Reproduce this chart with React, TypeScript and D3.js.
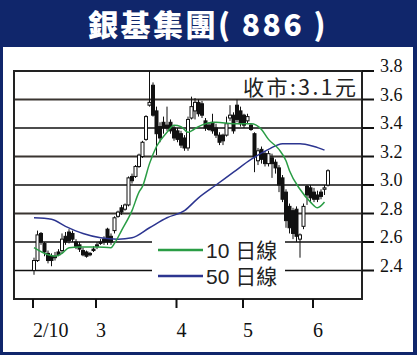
import * as d3 from "d3";

// daily candles, 2/10 .. early June
const opens = [2.40,2.47,2.66,2.59,2.52,2.50,2.50,2.53,2.54,2.64, 2.67,2.66,2.60,2.58,2.54,2.53,2.52,2.55,2.58,2.60, 2.62,2.69,2.64,2.68,2.78,2.84,2.83,2.86,3.06,3.06, 3.13,3.20,3.32,3.56,3.70,3.52,3.41,3.44,3.42,3.44, 3.40,3.38,3.36,3.33,3.26,3.47,3.52,3.58,3.57,3.45, 3.42,3.44,3.40,3.35,3.35,3.35,3.47,3.49,3.56,3.52, 3.49,3.45,3.42,3.36,3.17,3.25,3.22,3.15,3.19,3.16, 3.12,3.05,2.95,2.85,2.82,2.83,2.62,2.71,2.99,2.98, 2.95,2.93,2.95,2.97,3.00];
const highs = [2.49,2.68,2.67,2.60,2.54,2.52,2.53,2.55,2.66,2.67, 2.69,2.68,2.62,2.60,2.56,2.54,2.53,2.57,2.60,2.62, 2.64,2.70,2.66,2.78,2.82,2.86,2.87,3.06,3.08,3.14, 3.22,3.31,3.49,3.80,3.72,3.55,3.44,3.48,3.55,3.46, 3.42,3.40,3.38,3.35,3.48,3.62,3.61,3.60,3.59,3.47, 3.44,3.50,3.43,3.37,3.36,3.48,3.56,3.51,3.60,3.55, 3.50,3.50,3.43,3.37,3.26,3.27,3.24,3.24,3.22,3.18, 3.14,3.07,2.97,2.87,2.84,2.85,2.66,2.87,3.00,3.00, 2.98,2.96,2.97,3.00,3.11];
const lows = [2.37,2.46,2.58,2.50,2.45,2.43,2.47,2.50,2.52,2.58, 2.59,2.60,2.55,2.53,2.50,2.49,2.50,2.53,2.55,2.58, 2.58,2.58,2.58,2.66,2.77,2.79,2.82,2.85,3.01,3.05, 3.12,3.19,3.31,3.55,3.48,3.21,3.30,3.36,3.38,3.36, 3.31,3.30,3.26,3.24,3.24,3.46,3.46,3.48,3.47,3.38, 3.38,3.36,3.33,3.28,3.28,3.34,3.45,3.36,3.44,3.41, 3.40,3.43,3.38,3.09,3.14,3.15,3.13,3.13,3.05,3.08, 2.95,2.88,2.70,2.66,2.62,2.60,2.49,2.69,2.86,2.88, 2.88,2.88,2.90,2.93,2.99];
const closes = [2.47,2.65,2.60,2.53,2.47,2.47,2.49,2.51,2.62,2.60, 2.61,2.62,2.57,2.55,2.51,2.50,2.51,2.54,2.57,2.59, 2.60,2.60,2.60,2.77,2.81,2.81,2.86,3.05,3.03,3.13, 3.21,3.30,3.48,3.58,3.49,3.36,3.33,3.40,3.40,3.38, 3.33,3.32,3.28,3.26,3.46,3.55,3.58,3.50,3.49,3.40, 3.39,3.38,3.35,3.30,3.31,3.43,3.49,3.38,3.46,3.43, 3.42,3.48,3.39,3.20,3.24,3.18,3.15,3.22,3.15,3.12, 3.00,2.90,2.75,2.70,2.66,2.64,2.65,2.85,2.93,2.91, 2.90,2.90,2.92,2.98,3.10];

// moving averages (day index -> price)
const ma10Idx = [0,4,6,8,10,13,18,22,23,25,28,30,31,33,35,38,40,42,44,45,47,52,57,62,65,67,70,72,73,76,79,81,83];
const ma10Val = [2.56,2.51,2.50,2.52,2.56,2.565,2.565,2.56,2.59,2.68,2.82,2.95,2.99,3.15,3.27,3.37,3.42,3.41,3.37,3.38,3.41,3.44,3.43,3.43,3.39,3.32,3.25,3.17,3.10,2.97,2.88,2.84,2.88];
const ma50Idx = [0,5,9,14,19,24,28,33,38,43,47,52,57,62,67,71,76,80,83];
const ma50Val = [2.77,2.76,2.71,2.66,2.63,2.62,2.63,2.70,2.77,2.82,2.91,3.00,3.09,3.18,3.25,3.29,3.29,3.27,3.245];

const tickIdx = [0, 18, 41, 60, 80];
const tickLabels = ["2/10", "3", "4", "5", "6"];
const yTicks = [3.8, 3.6, 3.4, 3.2, 3.0, 2.8, 2.6, 2.4];
const gridVals = [3.6, 3.4, 3.2, 3.0, 2.8, 2.6, 2.4];
const thickGrid = [3.6, 3.2, 2.8];

const navy = "#10266b";
const green = "#2a9d45";
const blue = "#2c3590";

export default function App() {
  const W = 417, H = 355;
  const left = 14, right = 362;
  const x = d3.scaleLinear().domain([0, opens.length - 1]).range([34, 328]);
  const y = d3.scaleLinear().domain([2.2, 3.8]).range([299, 71]);
  const top = y(3.8), bottom = y(2.2);

  const line = d3.line<[number, number]>()
    .x(d => x(d[0]))
    .y(d => y(d[1]))
    .curve(d3.curveMonotoneX);
  const ma10 = line(ma10Idx.map((d, i) => [d, ma10Val[i]]));
  const ma50 = line(ma50Idx.map((d, i) => [d, ma50Val[i]]));

  const bw = 3;

  return (
    <div style={{ position: "fixed", left: 0, top: 0 }}>
      <svg width={W} height={H} style={{ display: "block" }}>
        <rect x={0} y={0} width={W} height={H} fill={navy} />
        <rect x={3} y={47} width={410} height={305} fill="#fff" />
        <text x={208} y={36} fill="#fff" fontSize={30} fontWeight={900} textAnchor="middle"
          letterSpacing={2.5} fontFamily="'Noto Sans CJK TC', sans-serif">
          銀基集團( 886 )
        </text>

        {gridVals.map(v => (
          <line key={v} x1={left} x2={right} y1={y(v)} y2={y(v)}
            stroke={thickGrid.includes(v) ? "#3a3531" : "#111"}
            strokeWidth={thickGrid.includes(v) ? 2.2 : 1.4} />
        ))}
        <rect x={152} y={233} width={133} height={50} fill="#fff" />

        {/* frame */}
        <rect x={left} y={top} width={right - left} height={bottom - top} fill="none" stroke="#222" strokeWidth={2} />

        {yTicks.map(v => (
          <g key={v}>
            <line x1={right} x2={374} y1={y(v)} y2={y(v)} stroke="#111" strokeWidth={2} />
            <text x={380} y={y(v) + 1} fontSize={18} fontFamily="'Liberation Serif', serif" fill="#111">
              {v.toFixed(1)}
            </text>
          </g>
        ))}

        {tickIdx.map((t, i) => (
          <g key={t}>
            <line x1={x(t) - 1} x2={x(t) - 1} y1={bottom} y2={bottom + 9} stroke="#111" strokeWidth={2} />
            <text x={x(t) - 1} y={337} fontSize={20} fontFamily="'Liberation Serif', serif" fill="#111">
              {tickLabels[i]}
            </text>
          </g>
        ))}

        {/* candles */}
        {opens.map((o, i) => {
          const c = closes[i];
          const up = c >= o;
          const cx = x(i);
          const yt = y(Math.max(o, c)), yb = y(Math.min(o, c));
          return (
            <g key={i}>
              <line x1={cx} x2={cx} y1={y(highs[i])} y2={y(lows[i])} stroke="#111" strokeWidth={1} />
              <rect x={cx - bw / 2} y={yt} width={bw} height={Math.max(1, yb - yt)}
                fill={up ? "#fff" : "#111"} stroke="#111" strokeWidth={1} />
            </g>
          );
        })}

        <path d={ma50 || ""} fill="none" stroke={blue} strokeWidth={1.5} />
        <path d={ma10 || ""} fill="none" stroke={green} strokeWidth={1.5} />

        <text x={243} y={95} fontSize={21} fill="#222" fontFamily="'Noto Sans CJK TC', sans-serif"
          textLength={113} lengthAdjust="spacing">
          收市:3.1元
        </text>

        <line x1={158} x2={203} y1={250} y2={250} stroke={green} strokeWidth={2.5} />
        <text x={206} y={258} fontSize={21} fill="#222" fontFamily="'Liberation Sans', 'Noto Sans CJK TC', sans-serif">
          10 日線
        </text>
        <line x1={158} x2={203} y1={276} y2={276} stroke={blue} strokeWidth={2.5} />
        <text x={206} y={284} fontSize={21} fill="#222" fontFamily="'Liberation Sans', 'Noto Sans CJK TC', sans-serif">
          50 日線
        </text>
      </svg>
    </div>
  );
}
